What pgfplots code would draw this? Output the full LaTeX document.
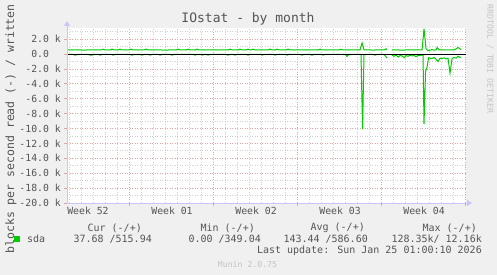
\documentclass[border=0pt]{standalone}
\usepackage{fontspec}
\setmainfont{DejaVu Sans Mono}
\usepackage{pgfplots}
\pgfplotsset{compat=1.18}
\usetikzlibrary{arrows.meta}
\definecolor{bg}{HTML}{F0F0F0}
\definecolor{munG}{HTML}{00CC00}
\definecolor{txt}{HTML}{555555}
\definecolor{lighttxt}{HTML}{C4C4C4}
\definecolor{minorgrid}{HTML}{D0D0D0}
\definecolor{majorgrid}{HTML}{E4A4A4}
\definecolor{axcol}{HTML}{C8C8F8}
\begin{document}
\begin{tikzpicture}[x=1pt,y=1pt,
  lbl/.style={inner sep=0pt, text=txt, font=\fontsize{10}{12}\selectfont}]
\useasboundingbox (0,0) rectangle (497,275);
\fill[bg] (0,0) rectangle (497,275);
\begin{axis}[at={(67pt,72pt)}, anchor=south west,
  width=399pt, height=175pt, scale only axis,
  xmin=-5.17, xmax=28.08, ymin=-20000, ymax=3500,
  scaled y ticks=false,
  axis background/.style={fill=white},
  axis line style={draw=none},
  tick style={draw=none},
  xtick={-3.42,3.58,10.58,17.58,24.58},
  xticklabels={Week 52,Week 01,Week 02,Week 03,Week 04},
  minor xtick={-5,-4,...,28},
  xminorgrids=true, xmajorgrids=false,
  extra x ticks={0,7,14,21,28}, extra x tick labels={},
  extra x tick style={grid=major},
  ytick={-20000,-18000,-16000,-14000,-12000,-10000,-8000,-6000,-4000,-2000,0,2000},
  yticklabels={-20.0 k,-18.0 k,-16.0 k,-14.0 k,-12.0 k,-10.0 k,-8.0 k,-6.0 k,-4.0 k,-2.0 k,0.0\hphantom{kk},2.0 k},
  minor ytick={-19000,-17000,-15000,-13000,-11000,-9000,-7000,-5000,-3000,-1000,1000,3000},
  ymajorgrids=true, yminorgrids=true,
  major grid style={majorgrid, line width=0.8pt, dash pattern=on 1pt off 1.5pt},
  minor grid style={minorgrid, line width=0.8pt, dash pattern=on 1pt off 1.5pt},
  yticklabel style={anchor=east, inner sep=0pt, xshift=-6pt, text=txt, font=\fontsize{9.8}{12}\selectfont},
  xticklabel style={anchor=north, inner sep=0pt, yshift=-4pt, text=txt, font=\fontsize{9.8}{12}\selectfont},
  unbounded coords=jump,
]
% written (+)
\addplot[munG, line width=1pt] coordinates {
(-5.17,550) (-4.75,545) (-4.25,550) (-3.75,540) (-3.25,555) (-2.75,545) (-2.33,550) (-2.17,650) (-2.0,550) (-1.58,545) (-1.42,660) (-1.25,550) (-0.92,545) (-0.75,650) (-0.58,550) (-0.25,545) (0.0,550) (0.17,660) (0.33,550) (0.75,545) (1.25,550) (1.42,650) (1.58,550) (2.0,545) (2.5,550) (3.0,540) (3.5,550) (3.92,545) (4.08,660) (4.25,550) (4.75,545) (4.92,650) (5.08,550) (5.5,545) (5.67,660) (5.83,550) (6.25,545) (6.75,550) (7.25,545) (7.75,550) (8.25,545) (8.42,660) (8.58,550) (9.08,545) (9.25,650) (9.42,550) (9.75,545) (9.92,660) (10.08,550) (10.33,650) (10.5,550) (11.0,545) (11.58,550) (11.75,660) (11.92,550) (12.17,545) (12.33,650) (12.5,550) (13.08,545) (13.25,660) (13.42,550) (13.75,545) (14.25,550) (14.75,545) (15.25,550) (15.75,545) (15.92,650) (16.08,550) (16.5,545) (17.0,550) (17.5,545) (17.67,640) (17.83,550) (18.25,545) (18.67,550) (19.0,545) (19.25,560) (19.42,1500) (19.58,580) (19.75,545) (20.08,550) (20.33,540) (20.67,550) (21.0,545) (21.25,550) (21.42,700) (21.5,550) (21.58,nan) (21.92,545) (22.25,550) (22.75,540) (23.25,550) (23.75,545) (24.25,550) (24.42,560) (24.58,3400) (24.75,700) (24.92,450) (25.08,520) (25.25,600) (25.42,520) (25.58,560) (25.67,880) (25.83,560) (26.0,550) (26.25,545) (26.75,550) (27.08,560) (27.25,700) (27.42,880) (27.58,700) (27.67,600)
};
% read (-)
\addplot[munG, line width=1pt] coordinates {
(-5.17,-30) (-4.67,-30) (-4.5,-150) (-4.17,-30) (-3.42,-30) (-3.25,-150) (-3.08,-150) (-2.92,-30) (-2.58,-30) (-2.42,-150) (-2.25,-30) (-1.5,-30) (-1.33,-150) (-1.17,-30) (0.0,-30) (0.25,-150) (0.42,-30) (0.92,-30) (1.08,-150) (1.25,-30) (1.58,-30) (1.75,-150) (1.92,-30) (2.42,-30) (2.58,-150) (2.75,-30) (3.42,-30) (3.58,-150) (3.75,-30) (5.42,-30) (5.5,-150) (5.67,-30) (6.0,-30) (6.08,-150) (6.25,-30) (6.42,-30) (6.58,-150) (6.75,-30) (8.0,-30) (8.25,-150) (8.42,-30) (8.67,-30) (8.83,-150) (9.0,-30) (9.75,-30) (9.92,-150) (10.08,-30) (11.0,-30) (11.08,-150) (11.25,-30) (12.0,-30) (12.17,-150) (12.33,-30) (13.0,-30) (13.17,-150) (13.33,-30) (14.25,-30) (14.42,-150) (14.58,-30) (15.0,-30) (15.25,-150) (15.42,-30) (16.0,-30) (16.17,-150) (16.33,-30) (17.0,-30) (18.0,-30) (18.17,-320) (18.33,-30) (19.17,-30) (19.33,-60) (19.46,-10100) (19.58,-80) (19.75,-30) (20.25,-30) (20.5,-150) (20.67,-30) (21.25,-30) (21.5,-540) (21.58,nan) (21.92,-150) (22.08,-300) (22.25,-120) (22.42,-400) (22.58,-200) (22.75,-250) (22.92,-500) (23.08,-200) (23.25,-300) (23.42,-150) (23.58,-250) (23.75,-200) (23.92,-350) (24.08,-150) (24.25,-200) (24.42,-120) (24.5,-200) (24.58,-9400) (24.71,-2300) (24.83,-1800) (24.96,-500) (25.08,-550) (25.25,-600) (25.42,-450) (25.58,-700) (25.75,-1000) (25.92,-550) (26.08,-600) (26.25,-500) (26.42,-650) (26.58,-550) (26.75,-2550) (26.92,-600) (27.08,-450) (27.25,-550) (27.42,-300) (27.58,-450) (27.67,-400)
};
% zero rule
\addplot[black, line width=1pt] coordinates {(-5.17,0) (28.08,0)};
\end{axis}
% axis lines and small tick marks
\draw[axcol, line width=0.8pt, -{Triangle[length=5pt,width=6pt]}] (67,72) -- (67,254);
\draw[axcol, line width=0.8pt, -{Triangle[length=5pt,width=6pt]}] (67,72) -- (472,72);
\foreach \k in {0,...,11} \draw[majorgrid, line width=0.8pt] (64,72+\k*14.894) -- (67,72+\k*14.894);
\foreach \xx in {129,213,297,381,465} \draw[majorgrid, line width=0.8pt] (\xx,69) -- (\xx,72);
% texts
\node[text=txt, inner sep=0pt, font=\fontsize{13}{15}\selectfont] at (248,256) {IOstat - by month};
\node[text=txt, inner sep=0pt, rotate=90, font=\fontsize{11.5}{13}\selectfont] at (11,160) {blocks per second read (-) / written (+)};
\node[text=lighttxt, inner sep=0pt, rotate=-90, font=\fontsize{8.2}{10}\selectfont] at (490,216) {RRDTOOL / TOBI OETIKER};
\fill[munG] (14,33) rectangle (20,39);
\node[lbl, anchor=west] at (27,36) {sda};
\node[lbl, anchor=east] at (142,47) {Cur (-/+)};
\node[lbl, anchor=east] at (152,36) {37.68 /515.94};
\node[lbl, anchor=east] at (255,47) {Min (-/+)};
\node[lbl, anchor=east] at (261,36) {0.00 /349.04};
\node[lbl, anchor=east] at (365,47) {Avg (-/+)};
\node[lbl, anchor=east] at (368,36) {143.44 /586.60};
\node[lbl, anchor=east] at (477,47) {Max (-/+)};
\node[lbl, anchor=east] at (482,36) {128.35k/ 12.16k};
\node[lbl, anchor=east] at (482,24) {Last update: Sun Jan 25 01:00:10 2026};
\node[inner sep=0pt, text=lighttxt, font=\fontsize{8.2}{10}\selectfont] at (247.5,11) {Munin 2.0.75};
\end{tikzpicture}
\end{document}
